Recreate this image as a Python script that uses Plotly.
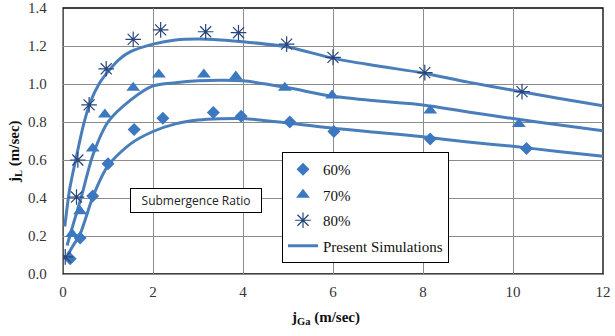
import plotly.graph_objects as go

# Measured points
x60 = [0.16, 0.38, 0.66, 1.0, 1.58, 2.22, 3.34, 3.96, 5.04, 6.02, 8.16, 10.3]
y60 = [0.08, 0.19, 0.41, 0.58, 0.76, 0.82, 0.85, 0.83, 0.80, 0.75, 0.71, 0.66]

x70 = [0.2, 0.38, 0.66, 0.93, 1.56, 2.13, 3.13, 3.84, 4.93, 5.98, 8.16, 10.13]
y70 = [0.21, 0.33, 0.66, 0.84, 0.98, 1.05, 1.05, 1.04, 0.98, 0.94, 0.86, 0.79]

x80 = [0.05, 0.3, 0.33, 0.58, 0.96, 1.56, 2.17, 3.17, 3.9, 4.97, 6.0, 8.04, 10.2]
y80 = [0.09, 0.405, 0.6, 0.89, 1.08, 1.235, 1.285, 1.275, 1.27, 1.21, 1.14, 1.06, 0.96]

# Simulation curves
xs60 = [0.1, 0.2, 0.38, 0.67, 1.0, 1.5, 2.0, 2.5, 3.0, 3.5, 4.0, 5.0, 6.0, 7.0, 8.0, 9.0, 10.0, 11.0, 12.0]
ys60 = [0.1, 0.14, 0.21, 0.41, 0.57, 0.685, 0.75, 0.79, 0.81, 0.817, 0.818, 0.795, 0.767, 0.745, 0.722, 0.695, 0.672, 0.645, 0.62]

xs70 = [0.09, 0.2, 0.4, 0.67, 1.0, 1.5, 2.0, 2.5, 3.0, 3.5, 4.0, 5.0, 6.0, 7.0, 8.0, 9.0, 10.0, 11.0, 12.0]
ys70 = [0.15, 0.24, 0.4, 0.63, 0.8, 0.915, 0.99, 1.007, 1.017, 1.02, 1.017, 0.98, 0.935, 0.91, 0.89, 0.853, 0.818, 0.785, 0.754]

xs80 = [0.04, 0.15, 0.3, 0.45, 0.6, 0.8, 1.0, 1.25, 1.5, 2.0, 2.5, 3.0, 3.5, 4.0, 5.0, 6.0, 7.0, 8.0, 9.0, 10.0, 11.0, 12.0]
ys80 = [0.25, 0.45, 0.62, 0.78, 0.9, 1.0, 1.065, 1.13, 1.17, 1.21, 1.232, 1.237, 1.232, 1.222, 1.195, 1.135, 1.095, 1.058, 1.01, 0.967, 0.925, 0.885]

x_ticks = [0, 2, 4, 6, 8, 10, 12]
y_ticks = [0.0, 0.2, 0.4, 0.6, 0.8, 1.0, 1.2, 1.4]

LINE = "#4A7EBB"
MARK = "#3C78C0"
STAR = "#27457A"
SERIF = "Liberation Serif"

L, R, T, B = 63, 12, 8, 62
W, H = 615, 336
PW, PH = W - L - R, H - T - B


def px(xp):
    return (xp - L) / PW


def py(yp):
    return (H - B - yp) / PH


fig = go.Figure()

for i, (xs, ys) in enumerate([(xs60, ys60), (xs70, ys70), (xs80, ys80)]):
    fig.add_trace(go.Scatter(
        x=xs, y=ys, mode="lines", line=dict(color=LINE, width=3, shape="spline", smoothing=0.8),
        name="Present Simulations", showlegend=(i == 0), legendgroup="sim", legendrank=4))

fig.add_trace(go.Scatter(x=x60, y=y60, mode="markers", name="60%", legendgroup="a", legendrank=1,
                         marker=dict(symbol="diamond", size=10, color=MARK)))
fig.add_trace(go.Scatter(x=x70, y=y70, mode="markers", name="70%", legendgroup="b", legendrank=2,
                         marker=dict(symbol="triangle-up", size=12, color=MARK)))
fig.add_trace(go.Scatter(x=x80, y=y80, mode="markers", name="80%", legendgroup="c", legendrank=3,
                         marker=dict(symbol="asterisk-open", size=13, color=STAR, line=dict(color=STAR, width=1.2))))

fig.add_shape(type="rect", xref="paper", yref="paper", x0=0, x1=1, y0=0, y1=1,
              line=dict(color="#000000", width=1.3), layer="below")

fig.add_annotation(xref="paper", yref="paper", x=px(196), y=py(200.5), xanchor="center", yanchor="middle",
                   text="Submergence Ratio", showarrow=False, width=128, height=21,
                   bordercolor="#000000", borderwidth=1, bgcolor="white",
                   font=dict(family="Open Sans", size=12, color="#222222"))

# axis titles
fig.add_annotation(xref="paper", yref="paper", x=px(325), y=py(318), xanchor="center", yanchor="middle",
                   text="<b>j<sub>Ga</sub> (m/sec)</b>", showarrow=False,
                   font=dict(family=SERIF, size=15, color="#111111"))
fig.add_annotation(xref="paper", yref="paper", x=px(15), y=py(152), xanchor="center", yanchor="middle",
                   text="<b>j<sub>L</sub> (m/sec)</b>", showarrow=False, textangle=-90,
                   font=dict(family=SERIF, size=15, color="#111111"))

fig.update_layout(
    width=W, height=H,
    margin=dict(l=L, r=R, t=T, b=B, autoexpand=False),
    paper_bgcolor="white", plot_bgcolor="white",
    showlegend=True,
    legend=dict(x=px(282), y=py(152), xanchor="left", yanchor="top",
                bordercolor="#000000", borderwidth=1, bgcolor="white",
                font=dict(family=SERIF, size=15, color="#111111"),
                traceorder="grouped", tracegroupgap=3, itemwidth=30),
    xaxis=dict(range=[0, 12], tickvals=x_ticks, ticktext=[str(v) for v in x_ticks],
               showgrid=True, gridcolor="#8c8c8c", gridwidth=1, zeroline=False,
               showline=True, linecolor="#8c8c8c", linewidth=1.3, ticks="",
               ticklabelstandoff=4, automargin=False,
               tickfont=dict(family=SERIF, size=15, color="#333333")),
    yaxis=dict(range=[0, 1.4], tickvals=y_ticks, ticktext=["%.1f" % v for v in y_ticks],
               showgrid=True, gridcolor="#8c8c8c", gridwidth=1, zeroline=False,
               showline=True, linecolor="#8c8c8c", linewidth=1.3, ticks="",
               ticklabelstandoff=12, automargin=False,
               tickfont=dict(family=SERIF, size=15, color="#333333")),
)

fig.write_html("out.html", config={"displayModeBar": False},
               post_script="document.body.style.margin='0';")
